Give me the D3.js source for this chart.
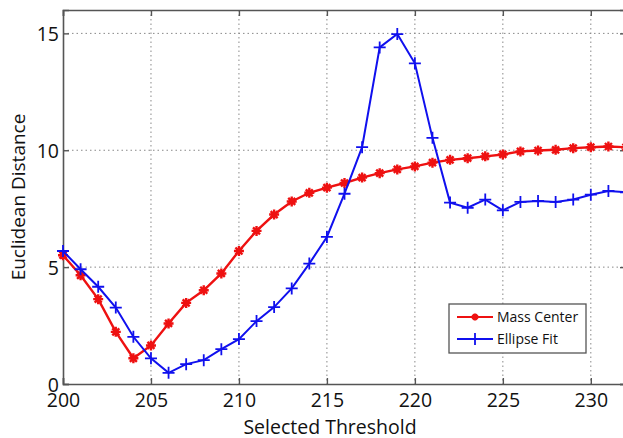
<!DOCTYPE html>
<html>
<head>
<meta charset="utf-8">
<script src="https://cdn.jsdelivr.net/npm/d3@7"></script>
<style>
  body { margin: 0; background: #fff; }
  svg text { font-family: "Open Sans", "DejaVu Sans", sans-serif; fill: #111; }
</style>
</head>
<body>
<svg id="chart" width="623" height="438"></svg>
<script>
const thresholds = d3.range(200, 233);
const massCenter = [5.51, 4.65, 3.63, 2.23, 1.10, 1.65, 2.59, 3.47, 4.01, 4.73, 5.69,
  6.55, 7.25, 7.81, 8.18, 8.40, 8.60, 8.83, 9.02, 9.18, 9.31, 9.47, 9.59, 9.66, 9.74,
  9.82, 9.95, 9.99, 10.02, 10.09, 10.13, 10.16, 10.13];
const ellipseFit = [5.69, 4.91, 4.16, 3.27, 2.02, 1.10, 0.48, 0.85, 1.02, 1.49, 1.92,
  2.69, 3.29, 4.09, 5.15, 6.29, 8.14, 10.13, 14.40, 14.97, 13.72, 10.53, 7.76, 7.54, 7.89,
  7.43, 7.79, 7.83, 7.79, 7.89, 8.10, 8.26, 8.20];
const xTicks = [200, 205, 210, 215, 220, 225, 230];
const yTicks = [0, 5, 10, 15];
const seriesNames = ['Mass Center', 'Ellipse Fit'];

const svg = d3.select('#chart');
const plotLeft = 63, plotRight = 626, plotTop = 10, plotBottom = 384;

const x = d3.scaleLinear().domain([200, 232]).range([plotLeft, plotRight]);
const y = d3.scaleLinear().domain([0, 16]).range([plotBottom, plotTop]);

// grid
const grid = svg.append('g').attr('stroke', '#888').attr('stroke-width', 1).attr('stroke-dasharray', '1.5,3');
grid.selectAll('.gx').data(xTicks.slice(1)).enter().append('line')
  .attr('x1', d => x(d)).attr('x2', d => x(d)).attr('y1', plotTop).attr('y2', plotBottom);
grid.selectAll('.gy').data(yTicks.slice(1)).enter().append('line')
  .attr('x1', plotLeft).attr('x2', plotRight).attr('y1', d => y(d)).attr('y2', d => y(d));

// axes, ticks pointing inward
const xAxis = svg.append('g').attr('transform', `translate(0,${plotBottom})`)
  .call(d3.axisBottom(x).tickValues(xTicks).tickSize(-6).tickPadding(10));
const xAxisTop = svg.append('g').attr('transform', `translate(0,${plotTop})`)
  .call(d3.axisTop(x).tickValues(xTicks).tickSize(-6).tickFormat(''));
const yAxis = svg.append('g').attr('transform', `translate(${plotLeft},0)`)
  .call(d3.axisLeft(y).tickValues(yTicks).tickSize(-6).tickPadding(4));
const yAxisRight = svg.append('g').attr('transform', `translate(${plotRight},0)`)
  .call(d3.axisRight(y).tickValues(yTicks).tickSize(-6).tickFormat(''));

[xAxis, xAxisTop, yAxis, yAxisRight].forEach(a => {
  a.select('.domain').attr('stroke', '#555').attr('stroke-width', 1.6);
  a.selectAll('.tick line').attr('stroke', '#555').attr('stroke-width', 1.4);
  a.selectAll('.tick text').attr('font-size', 19.5).attr('fill', '#111')
    .style('font-family', '"Open Sans", "DejaVu Sans", sans-serif');
});
xAxis.selectAll('.tick text').attr('dy', '0.68em');
yAxis.selectAll('.tick text').attr('dy', '0.36em');

// axis titles
svg.append('text').attr('x', 330).attr('y', 433.5)
  .attr('text-anchor', 'middle').attr('font-size', 19.5).text('Selected Threshold');
svg.append('text').attr('transform', `translate(25,197) rotate(-90)`)
  .attr('text-anchor', 'middle').attr('font-size', 19).text('Euclidean Distance');

const line = d3.line().x(d => x(d[0])).y(d => y(d[1]));
const redData = thresholds.map((t, i) => [t, massCenter[i]]);
const blueData = thresholds.map((t, i) => [t, ellipseFit[i]]);

function asterisk(g, cx, cy, r, color) {
  return g.append('path')
    .attr('d', `M${cx - r},${cy}H${cx + r}M${cx},${cy - r}V${cy + r}` +
      `M${cx - r * 0.7},${cy - r * 0.7}L${cx + r * 0.7},${cy + r * 0.7}` +
      `M${cx - r * 0.7},${cy + r * 0.7}L${cx + r * 0.7},${cy - r * 0.7}`)
    .attr('stroke', color).attr('stroke-width', 2.4).attr('fill', 'none');
}
function plus(g, cx, cy, r, color) {
  return g.append('path')
    .attr('d', `M${cx - r},${cy}H${cx + r}M${cx},${cy - r}V${cy + r}`)
    .attr('stroke', color).attr('stroke-width', 1.8).attr('fill', 'none');
}

const plot = svg.append('g');
const red = '#ee1111', blue = '#1010ee';

plot.append('path').datum(redData).attr('d', line)
  .attr('fill', 'none').attr('stroke', red).attr('stroke-width', 2.4);
const redMarks = plot.append('g');
redData.forEach(d => asterisk(redMarks, x(d[0]), y(d[1]), 5, red));

plot.append('path').datum(blueData).attr('d', line)
  .attr('fill', 'none').attr('stroke', blue).attr('stroke-width', 2);
const blueMarks = plot.append('g');
blueData.forEach(d => plus(blueMarks, x(d[0]), y(d[1]), 6, blue));

// legend
const lg = svg.append('g');
lg.append('rect').attr('x', 449).attr('y', 304).attr('width', 137).attr('height', 49)
  .attr('fill', '#fff').attr('stroke', '#555').attr('stroke-width', 1.3);
const legendColors = [red, blue];
seriesNames.forEach((name, i) => {
  const ly = 317 + i * 22;
  lg.append('line').attr('x1', 457).attr('x2', 493).attr('y1', ly).attr('y2', ly)
    .attr('stroke', legendColors[i]).attr('stroke-width', 2);
  if (i === 0) asterisk(lg, 475, ly, 3.5, red);
  else plus(lg, 475, ly, 6, blue);
  lg.append('text').attr('x', 497).attr('y', ly + 5).attr('font-size', 14).text(name);
});
</script>
</body>
</html>
